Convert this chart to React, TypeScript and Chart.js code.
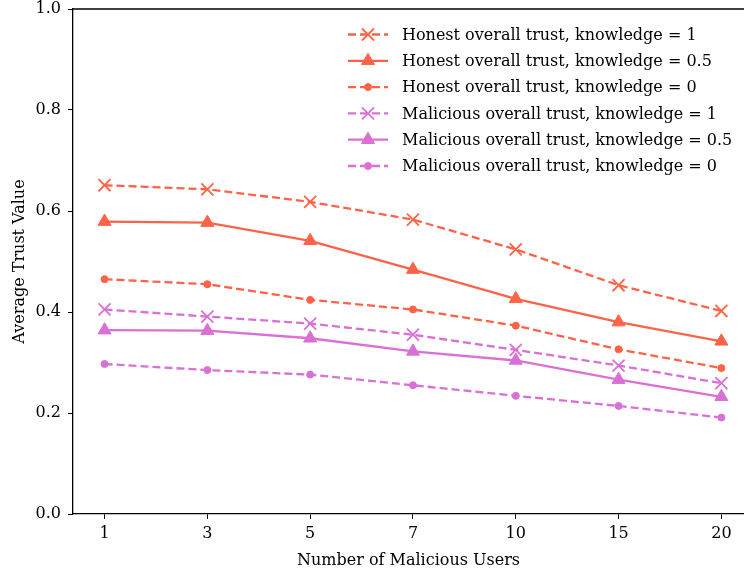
import { useEffect, useRef } from 'react';
import { Chart, registerables } from 'chart.js';
import { drawPoint } from 'chart.js/helpers';

Chart.register(...registerables);

const categories = ['1', '3', '5', '7', '10', '15', '20'];
const yTicks = [0, 0.2, 0.4, 0.6, 0.8, 1.0];

const honestK1 = [0.651, 0.643, 0.618, 0.583, 0.524, 0.453, 0.402];
const honestK05 = [0.579, 0.577, 0.541, 0.484, 0.426, 0.38, 0.342];
const honestK0 = [0.465, 0.455, 0.424, 0.405, 0.373, 0.326, 0.289];
const maliciousK1 = [0.405, 0.391, 0.377, 0.355, 0.325, 0.294, 0.259];
const maliciousK05 = [0.364, 0.363, 0.348, 0.322, 0.304, 0.266, 0.232];
const maliciousK0 = [0.297, 0.285, 0.276, 0.255, 0.234, 0.214, 0.191];

const labels = [
  'Honest overall trust, knowledge = 1',
  'Honest overall trust, knowledge = 0.5',
  'Honest overall trust, knowledge = 0',
  'Malicious overall trust, knowledge = 1',
  'Malicious overall trust, knowledge = 0.5',
  'Malicious overall trust, knowledge = 0',
];

const TOMATO = '#ff6347';
const ORCHID = '#da70d6';
const FONT_FAMILY = "'DejaVu Serif', 'Liberation Serif', serif";
const FONT_SIZE = 16;
const DASH = [8, 4];

export default function App() {
  const ref = useRef<HTMLCanvasElement>(null);

  useEffect(() => {
    if (!ref.current) return;
    const series = [
      { label: labels[0], data: honestK1, color: TOMATO, dash: DASH, style: 'crossRot', r: 8.5, bw: 1.8 },
      { label: labels[1], data: honestK05, color: TOMATO, dash: [], style: 'triangle', r: 7.5, bw: 1 },
      { label: labels[2], data: honestK0, color: TOMATO, dash: DASH, style: 'circle', r: 3.5, bw: 1 },
      { label: labels[3], data: maliciousK1, color: ORCHID, dash: DASH, style: 'crossRot', r: 8.5, bw: 1.8 },
      { label: labels[4], data: maliciousK05, color: ORCHID, dash: [], style: 'triangle', r: 7.5, bw: 1 },
      { label: labels[5], data: maliciousK0, color: ORCHID, dash: DASH, style: 'circle', r: 3.5, bw: 1 },
    ];

    const datasets = series.map((s) => ({
      label: s.label,
      data: s.data.map((v, i) => ({ x: i, y: v })),
      borderColor: s.color,
      backgroundColor: s.color,
      borderWidth: 2.3,
      borderDash: s.dash,
      pointStyle: s.style,
      pointRadius: s.r,
      pointBorderWidth: s.bw,
      pointBackgroundColor: s.color,
      pointBorderColor: s.color,
      tension: 0,
      fill: false,
    }));

    const font = { family: FONT_FAMILY, size: FONT_SIZE };

    const framePlugin = {
      id: 'frameAndLegend',
      afterDraw(chart: any) {
        const ctx = chart.ctx;
        const { top, left, right } = chart.chartArea;
        ctx.save();
        ctx.strokeStyle = '#000';
        ctx.lineWidth = 1.3;
        ctx.beginPath();
        ctx.moveTo(left, top);
        ctx.lineTo(right, top);
        ctx.stroke();

        // legend
        const x0 = 348;
        const x1 = 388;
        const textX = 402;
        const rowY0 = 34.5;
        const rowH = 26.3;
        ctx.font = `${FONT_SIZE}px ${FONT_FAMILY}`;
        ctx.textBaseline = 'middle';
        ctx.textAlign = 'left';
        series.forEach((s, i) => {
          const y = rowY0 + i * rowH;
          ctx.save();
          ctx.strokeStyle = s.color;
          ctx.fillStyle = s.color;
          ctx.lineWidth = 2.3;
          ctx.setLineDash(s.dash);
          ctx.beginPath();
          ctx.moveTo(x0, y);
          ctx.lineTo(x1, y);
          ctx.stroke();
          ctx.setLineDash([]);
          ctx.lineWidth = s.bw;
          drawPoint(ctx, { pointStyle: s.style, radius: s.r, rotation: 0, borderWidth: s.bw } as any, (x0 + x1) / 2, y);
          ctx.restore();
          ctx.fillStyle = '#000';
          ctx.fillText(s.label, textX, y + 1);
        });
        ctx.restore();
      },
    };

    const chart = new Chart(ref.current, {
      type: 'line',
      data: { datasets: datasets as any },
      plugins: [framePlugin],
      options: {
        responsive: false,
        animation: false,
        layout: { autoPadding: false, padding: { top: 9, left: 0, right: 0, bottom: 0 } },
        plugins: { legend: { display: false }, tooltip: { enabled: false } },
        scales: {
          x: {
            type: 'linear',
            min: -0.307,
            max: 6.22,
            afterBuildTicks: (scale: any) => {
              scale.ticks = categories.map((_, i) => ({ value: i }));
            },
            afterFit: (scale: any) => {
              scale.height = 60;
              scale.paddingLeft = 0;
              scale.paddingRight = 0;
              scale.paddingTop = 0;
              scale.paddingBottom = 0;
            },
            ticks: {
              callback: (v: any) => categories[Math.round(Number(v))] ?? '',
              font,
              color: '#000',
              padding: 5,
              maxRotation: 0,
              autoSkip: false,
            },
            grid: { drawOnChartArea: false, drawTicks: true, tickLength: 5, color: '#000', lineWidth: 1 },
            border: { display: true, color: '#000', width: 1.3 },
            title: { display: true, text: 'Number of Malicious Users', font, color: '#000', padding: { top: 2, bottom: 4 } },
          },
          y: {
            type: 'linear',
            min: 0,
            max: 1,
            afterBuildTicks: (scale: any) => {
              scale.ticks = yTicks.map((v) => ({ value: v }));
            },
            afterFit: (scale: any) => {
              scale.width = 73;
              scale.paddingLeft = 0;
              scale.paddingRight = 0;
              scale.paddingTop = 0;
              scale.paddingBottom = 0;
            },
            ticks: {
              callback: (v: any) => Number(v).toFixed(1),
              font,
              color: '#000',
              padding: 7,
            },
            grid: { drawOnChartArea: false, drawTicks: true, tickLength: 5, color: '#000', lineWidth: 1 },
            border: { display: true, color: '#000', width: 1.3 },
            title: { display: true, text: 'Average Trust Value', font, color: '#000', padding: { top: 10, bottom: 4 } },
          },
        },
      },
    });
    return () => chart.destroy();
  }, []);

  return (
    <div style={{ position: 'fixed', left: 0, top: 0, width: 744, height: 574, background: '#fff' }}>
      <canvas ref={ref} width={744} height={574} style={{ display: 'block' }} />
    </div>
  );
}
